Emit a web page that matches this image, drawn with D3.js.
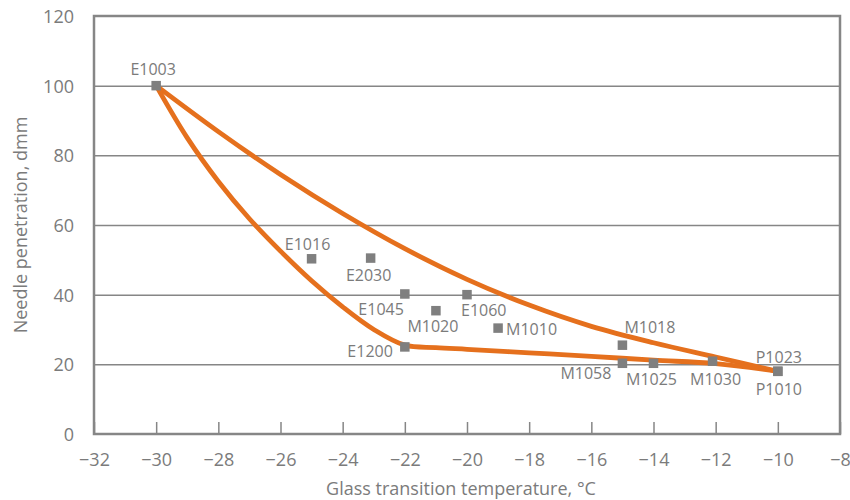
<!DOCTYPE html>
<html>
<head>
<meta charset="utf-8">
<script src="https://cdn.jsdelivr.net/npm/d3@7"></script>
<style>
body { margin: 0; background: #fff; }
text { font-family: "Open Sans", "Noto Sans", sans-serif; fill: #7b7b7b; }
</style>
</head>
<body>
<div class="graph"></div>
<script>
// samples
var sampleNames = ["E1003","E1016","E2030","E1045","M1020","E1060","M1010","E1200","M1018","M1058","M1025","M1030","P1023","P1010"];
var sampleTg    = [-30, -25, -23.1, -22, -21, -20, -19, -22, -15, -15, -14, -12.1, -10, -10];
var samplePen   = [100, 50.3, 50.5, 40.2, 35.4, 40, 30.4, 25, 25.5, 20.3, 20.3, 20.9, 18, 18];

// envelope curves
var upperTg  = [-30, -28, -26, -24, -22, -20, -18, -16, -14, -12, -10];
var upperPen = [100, 86.8, 74.5, 63.3, 53.2, 44.4, 37, 30.9, 26.2, 22.1, 18];
var lowerTg  = [-30, -29, -28, -27, -26, -25, -24, -23, -22, -21, -20, -18, -16, -14, -12, -10];
var lowerPen = [100, 85, 72.5, 61.8, 52.5, 44, 36.5, 30, 25.5, 24.8, 24.3, 23.3, 22.3, 21.2, 20.2, 18];

var xTicks = [-32,-30,-28,-26,-24,-22,-20,-18,-16,-14,-12,-10,-8];
var yTicks = [0,20,40,60,80,100,120];

// label placement: anchor, dx, dy (baseline) from the square centre
var labelPlace = {
  E1003: ["middle", -3, -11], E1016: ["middle", -4, -9], E2030: ["middle", -2, 23],
  E1045: ["end", -1, 21], M1020: ["middle", -3, 21], E1060: ["start", -6, 21],
  M1010: ["start", 8, 7], E1200: ["end", -12, 10], M1018: ["start", 2, -12],
  M1058: ["end", -11, 16], M1025: ["middle", -2, 22], M1030: ["middle", 3, 24],
  P1023: ["middle", 1, -8], P1010: ["middle", 1, 24]
};

var width = 850, height = 500;
var pLeft = 94, pRight = 840, pTop = 16, pBottom = 434;

var svg = d3.select(".graph").append("svg").attr("width", width).attr("height", height);

var x = d3.scaleLinear().domain([-32, -8]).range([pLeft, pRight]);
var y = d3.scaleLinear().domain([0, 120]).range([pBottom, pTop]);

var grey = "#868686";

// gridlines + y labels
var yAxis = svg.append("g").attr("transform", "translate(" + pLeft + ",0)")
  .call(d3.axisLeft(y).tickValues(yTicks).tickSize(-(pRight - pLeft)).tickPadding(20));
yAxis.select(".domain").remove();
yAxis.selectAll("line").attr("stroke", grey).attr("stroke-width", 1.5)
  .filter(function (d) { return d == 0 || d == 120; }).remove();
yAxis.selectAll("text").style("font-size", "18px").attr("fill", "#7b7b7b").attr("dy", "0.36em");

// x axis with inward ticks
var xAxis = svg.append("g").attr("transform", "translate(0," + pBottom + ")")
  .call(d3.axisBottom(x).tickValues(xTicks).tickSize(-12));
xAxis.select(".domain").remove();
xAxis.selectAll("line").attr("stroke", grey).attr("stroke-width", 1.5);
xAxis.selectAll("text").style("font-size", "18px").attr("fill", "#7b7b7b").attr("y", 32).attr("dy", 0);

// frame
svg.append("rect").attr("x", pLeft).attr("y", pTop).attr("width", pRight - pLeft).attr("height", pBottom - pTop)
  .attr("fill", "none").attr("stroke", grey).attr("stroke-width", 2.5);

// curves
var line = d3.line()
  .x(function (d) { return x(d[0]); })
  .y(function (d) { return y(d[1]); })
  .curve(d3.curveCatmullRom.alpha(0.5));

var curves = [d3.zip(upperTg, upperPen), d3.zip(lowerTg, lowerPen)];
svg.selectAll(".curve").data(curves).enter().append("path")
  .attr("class", "curve")
  .attr("d", line)
  .attr("fill", "none").attr("stroke", "#e5701d").attr("stroke-width", 4.8)
  .attr("stroke-linejoin", "round").attr("stroke-linecap", "round");

// samples
var pts = sampleNames.map(function (n, i) { return {name: n, tg: sampleTg[i], pen: samplePen[i]}; });
var sq = 9.5;
svg.selectAll(".pt").data(pts).enter().append("rect")
  .attr("class", "pt")
  .attr("x", function (d) { return x(d.tg) - sq / 2; })
  .attr("y", function (d) { return y(d.pen) - sq / 2; })
  .attr("width", sq).attr("height", sq).attr("fill", "#7f7f7f");

svg.selectAll(".lbl").data(pts).enter().append("text")
  .attr("class", "lbl")
  .attr("x", function (d) { return x(d.tg) + labelPlace[d.name][1]; })
  .attr("y", function (d) { return y(d.pen) + labelPlace[d.name][2]; })
  .attr("text-anchor", function (d) { return labelPlace[d.name][0]; })
  .style("font-size", "16px")
  .text(function (d) { return d.name; });

// axis titles
svg.append("text").attr("x", (pLeft + pRight) / 2 - 6).attr("y", 495)
  .attr("text-anchor", "middle").style("font-size", "18px")
  .text("Glass transition temperature, °C");
svg.append("text").attr("transform", "translate(27," + (pTop + pBottom) / 2 + ") rotate(-90)")
  .attr("text-anchor", "middle").style("font-size", "18px")
  .text("Needle penetration, dmm");
</script>
</body>
</html>
